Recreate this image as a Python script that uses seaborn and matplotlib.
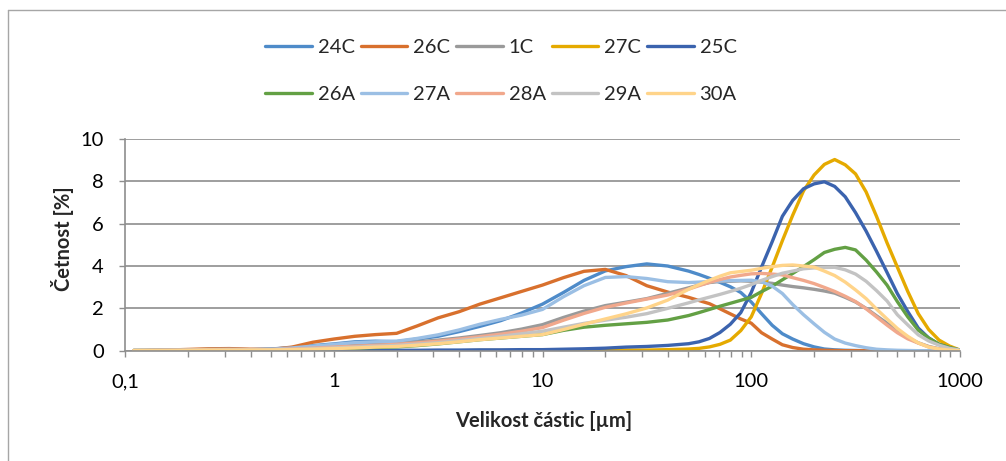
import numpy as np
import pandas as pd
import matplotlib
matplotlib.use("Agg")
import matplotlib.pyplot as plt
from matplotlib.lines import Line2D
import seaborn as sns

sns.set_theme(style="white")
plt.rcParams['font.family'] = ['Lato', 'DejaVu Sans']

# particle sizes [um]
sizes = [0.11, 0.126, 0.158, 0.2, 0.251, 0.316, 0.398, 0.501, 0.631, 0.794,
         1, 1.26, 1.58, 2, 2.51, 3.16, 3.98, 5.01, 6.31, 7.94,
         10, 12.6, 15.8, 20, 25.1, 31.6, 39.8, 50.1,
         56.2, 63.1, 70.8, 79.4, 89.1, 100, 112, 126, 141, 158, 178, 200, 224,
         251, 282, 316, 355, 398, 447, 501, 562, 631, 708, 794, 891, 1000]

s24C = [0.01, 0.01, 0.02, 0.03, 0.04, 0.05, 0.05, 0.08, 0.15, 0.24,
        0.32, 0.42, 0.45, 0.43, 0.55, 0.68, 0.9, 1.15, 1.42, 1.78,
        2.2, 2.75, 3.32, 3.77, 3.97, 4.1, 4.0, 3.76,
        3.6, 3.42, 3.23, 3.02, 2.75, 2.3, 1.75, 1.2, 0.8, 0.55, 0.33, 0.18, 0.08,
        0.04, 0.02, 0.01, 0, 0, 0, 0, 0, 0, 0, 0, 0, 0]
s26C = [0.0, 0.01, 0.03, 0.06, 0.09, 0.1, 0.07, 0.06, 0.17, 0.4,
        0.55, 0.68, 0.76, 0.82, 1.17, 1.55, 1.84, 2.2, 2.5, 2.8,
        3.1, 3.45, 3.75, 3.84, 3.55, 3.07, 2.77, 2.52,
        2.37, 2.22, 1.98, 1.74, 1.5, 1.3, 0.85, 0.55, 0.28, 0.15, 0.07, 0.04, 0.02,
        0.01, 0, 0, 0, 0, 0, 0, 0, 0, 0, 0, 0, 0]
s1C = [0.01, 0.01, 0.02, 0.04, 0.06, 0.07, 0.05, 0.06, 0.1, 0.14,
       0.2, 0.25, 0.3, 0.35, 0.42, 0.5, 0.6, 0.72, 0.85, 1.02,
       1.23, 1.57, 1.87, 2.13, 2.29, 2.46, 2.71, 2.97,
       3.1, 3.22, 3.27, 3.28, 3.3, 3.28, 3.24, 3.18, 3.1, 3.03, 2.97, 2.9, 2.82,
       2.72, 2.52, 2.3, 2.0, 1.65, 1.3, 0.93, 0.62, 0.37, 0.2, 0.09, 0.04, 0.0]
s27C = [0, 0, 0, 0, 0, 0, 0, 0, 0, 0,
        0, 0, 0, 0, 0, 0, 0, 0.01, 0.01, 0.01,
        0.01, 0.01, 0.02, 0.02, 0.03, 0.03, 0.05, 0.08,
        0.11, 0.18, 0.3, 0.5, 0.95, 1.6, 2.7, 3.95, 5.2, 6.4, 7.55, 8.3, 8.8,
        9.03, 8.78, 8.35, 7.5, 6.35, 5.1, 3.95, 2.8, 1.75, 1.0, 0.5, 0.22, 0.03]
s25C = [0, 0, 0, 0, 0, 0, 0, 0, 0, 0,
        0.0, 0.01, 0.01, 0.02, 0.02, 0.03, 0.03, 0.04, 0.04, 0.05,
        0.05, 0.07, 0.09, 0.12, 0.17, 0.2, 0.25, 0.33,
        0.42, 0.58, 0.86, 1.25, 1.8, 2.75, 3.95, 5.15, 6.35, 7.1, 7.65, 7.88, 7.98,
        7.76, 7.27, 6.52, 5.65, 4.7, 3.7, 2.7, 1.85, 1.07, 0.6, 0.3, 0.14, 0.02]
s26A = [0.01, 0.01, 0.01, 0.02, 0.03, 0.03, 0.03, 0.03, 0.05, 0.07,
        0.1, 0.12, 0.15, 0.18, 0.24, 0.32, 0.42, 0.52, 0.6, 0.68,
        0.76, 0.96, 1.11, 1.2, 1.27, 1.34, 1.45, 1.66,
        1.8, 1.95, 2.1, 2.24, 2.38, 2.52, 2.79, 3.05, 3.35, 3.65, 3.97, 4.3, 4.64,
        4.79, 4.88, 4.76, 4.28, 3.72, 3.1, 2.32, 1.6, 0.97, 0.6, 0.3, 0.15, 0.03]
s27A = [0.01, 0.01, 0.02, 0.03, 0.04, 0.04, 0.04, 0.07, 0.13, 0.22,
        0.3, 0.38, 0.42, 0.45, 0.58, 0.75, 0.98, 1.25, 1.48, 1.68,
        1.95, 2.55, 3.07, 3.46, 3.5, 3.41, 3.26, 3.22,
        3.24, 3.27, 3.29, 3.31, 3.32, 3.33, 3.26, 3.05, 2.7, 2.18, 1.7, 1.27, 0.87,
        0.55, 0.36, 0.24, 0.14, 0.07, 0.04, 0.02, 0.01, 0, 0, 0, 0, 0]
s28A = [0.01, 0.01, 0.02, 0.03, 0.05, 0.06, 0.05, 0.05, 0.08, 0.12,
        0.17, 0.21, 0.25, 0.3, 0.37, 0.45, 0.55, 0.66, 0.78, 0.92,
        1.09, 1.44, 1.76, 2.05, 2.25, 2.44, 2.63, 2.91,
        3.07, 3.23, 3.36, 3.48, 3.56, 3.63, 3.65, 3.62, 3.58, 3.45, 3.32, 3.17, 2.99,
        2.8, 2.57, 2.32, 1.98, 1.6, 1.21, 0.85, 0.56, 0.36, 0.18, 0.08, 0.03, 0.0]
s29A = [0.01, 0.01, 0.02, 0.02, 0.03, 0.04, 0.04, 0.04, 0.06, 0.09,
        0.13, 0.17, 0.21, 0.25, 0.31, 0.38, 0.48, 0.58, 0.68, 0.8,
        0.92, 1.11, 1.29, 1.44, 1.58, 1.75, 2.0, 2.26,
        2.4, 2.53, 2.66, 2.8, 2.95, 3.12, 3.32, 3.5, 3.66, 3.76, 3.87, 3.91, 3.93,
        3.94, 3.82, 3.62, 3.28, 2.84, 2.35, 1.7, 1.22, 0.75, 0.46, 0.26, 0.11, 0.03]
s30A = [0.01, 0.01, 0.01, 0.02, 0.03, 0.03, 0.03, 0.04, 0.05, 0.07,
        0.1, 0.13, 0.17, 0.2, 0.26, 0.33, 0.42, 0.52, 0.6, 0.68,
        0.76, 1.0, 1.25, 1.5, 1.74, 2.02, 2.39, 2.9,
        3.12, 3.33, 3.52, 3.68, 3.74, 3.8, 3.89, 3.97, 4.03, 4.05, 4.0, 3.95, 3.76,
        3.55, 3.24, 2.87, 2.46, 1.97, 1.5, 1.05, 0.68, 0.37, 0.17, 0.08, 0.03, 0.0]

names = ["24C", "26C", "1C", "27C", "25C", "26A", "27A", "28A", "29A", "30A"]
series = [s24C, s26C, s1C, s27C, s25C, s26A, s27A, s28A, s29A, s30A]
colors = ["#4e8bc9", "#d8702d", "#9a9a9a", "#e5aa00", "#3b63ae",
          "#63a044", "#9bbfe4", "#f1a88c", "#c3c3c3", "#ffd48a"]

xticks = [0.1, 1, 10, 100, 1000]
xtick_labels = ["0,1", "1", "10", "100", "1000"]
yticks = [0, 2, 4, 6, 8, 10]

rows = []
for name, vals in zip(names, series):
    for s, v in zip(sizes, vals):
        rows.append((name, s, v))
df = pd.DataFrame(rows, columns=["vzorek", "size", "cetnost"])

fig = plt.figure(figsize=(10.06, 4.61), dpi=100)
ax = fig.add_axes([125 / 1006, 1 - 350.7 / 461, 835 / 1006, 211.7 / 461])

grid_c = "#8e8e8e"
for yv in yticks:
    ax.axhline(yv, color=grid_c, lw=1.2, zorder=0)

sns.lineplot(data=df, x="size", y="cetnost", hue="vzorek", hue_order=names,
             palette=dict(zip(names, colors)), sort=False, estimator=None,
             lw=2.4, solid_capstyle="round", solid_joinstyle="round",
             legend=False, ax=ax)

ax.set_xscale("log")
ax.set_xlim(0.1, 1000)
ax.set_ylim(0, 10)
ax.set_xticks(xticks)
ax.set_xticklabels(xtick_labels)
ax.xaxis.set_minor_locator(matplotlib.ticker.LogLocator(base=10, subs=np.arange(2, 10)))
ax.xaxis.set_minor_formatter(matplotlib.ticker.NullFormatter())
ax.set_yticks(yticks)
ax.set_yticklabels([str(v) for v in yticks])
ax.tick_params(axis="both", which="both", direction="out", length=4.3, width=1,
               color=grid_c, labelsize=14.5, labelcolor="#000000")
ax.tick_params(axis="x", which="both", bottom=True, pad=12)
ax.tick_params(axis="y", which="both", left=True, pad=11)
ax.set_xlabel("")
ax.set_ylabel("")
for side in ["top", "right"]:
    ax.spines[side].set_visible(False)
for side in ["left", "bottom"]:
    ax.spines[side].set_color(grid_c)
    ax.spines[side].set_linewidth(1.2)

fig.text(63 / 1006, 1 - 239 / 461, "Četnost [%]", rotation=90, ha="center",
         va="center", fontsize=14.5, fontweight="bold")
fig.text(544 / 1006, 1 - 421 / 461, "Velikost částic [µm]", ha="center",
         va="center", fontsize=14.5, fontweight="bold")

# legend: two rows of five, filled row by row
handles = [Line2D([], [], color=c, lw=2.4, solid_capstyle="round") for c in colors]
order = [0, 5, 1, 6, 2, 7, 3, 8, 4, 9]
fig.legend([handles[i] for i in order], [names[i] for i in order], loc="center",
           bbox_to_anchor=(501 / 1006, 1 - 71 / 461),
           ncol=5, frameon=False, fontsize=14.5, handlelength=2.3,
           handletextpad=0.3, columnspacing=0.3, labelspacing=1.45)

# outer chart border (top and left visible)
fig.add_artist(Line2D([8 / 1006, 8 / 1006], [1 - 10 / 461, 0], color="#a6a6a6", lw=1))
fig.add_artist(Line2D([8 / 1006, 1], [1 - 10 / 461, 1 - 10 / 461], color="#a6a6a6", lw=1))

fig.savefig("out.png", dpi=100)
